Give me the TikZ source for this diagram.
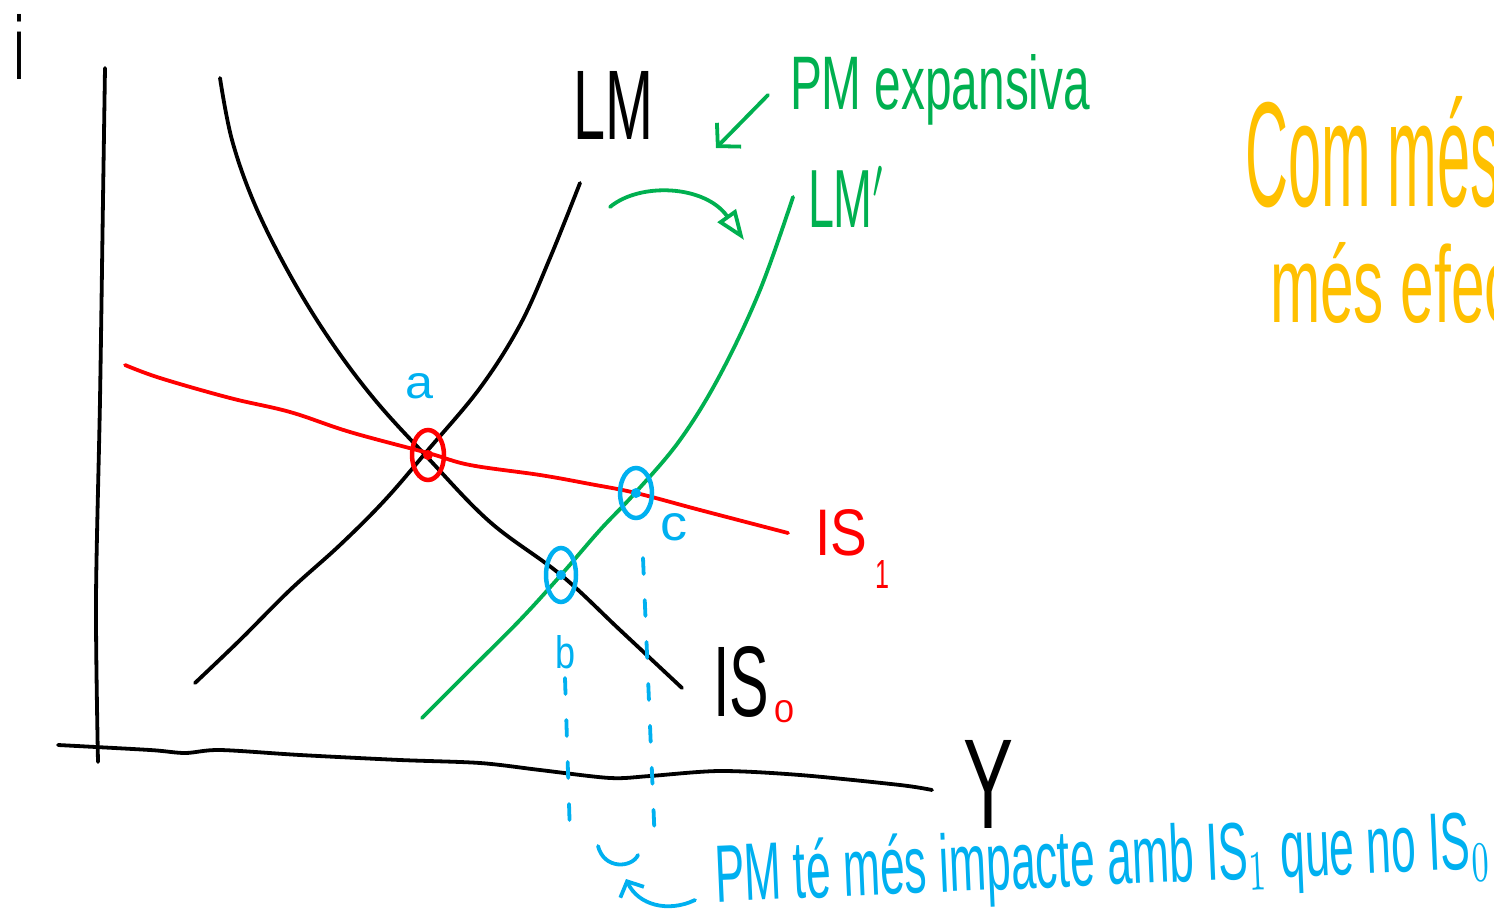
\documentclass[tikz,border=0pt]{standalone}
\usepackage{fontspec}
\setmainfont{Liberation Sans}
\usepackage{graphicx}
\usetikzlibrary{arrows.meta,shapes.geometric}
\definecolor{hblue}{HTML}{00B0F0}
\definecolor{hgreen}{HTML}{00B050}
\definecolor{hred}{HTML}{FF0000}
\definecolor{horange}{HTML}{FFC000}
\newcommand{\hw}[3]{\resizebox{#1pt}{#2pt}{#3}}
\begin{document}
\begin{tikzpicture}[x=1pt,y=-1pt,
  curve/.style={line width=3.8pt,line cap=round,line join=round},
  lbl/.style={anchor=base west,inner sep=0pt,outer sep=0pt},
  ptmark/.style={draw,ellipse,line width=4.5pt,inner sep=0pt,minimum width=32pt,minimum height=50pt},
  ptdot/.style={circle,fill,inner sep=0pt,minimum size=10pt},
  dashv/.style={hblue,line width=3.8pt,line cap=round,dash pattern=on 16pt off 26pt}]
\useasboundingbox (0,0) rectangle (1494,920);

% axes
\draw[curve] plot[smooth,tension=0.5] coordinates {(105,68) (103,200) (100,400) (96,600) (98,762)};
\draw[curve] plot[smooth,tension=0.5] coordinates {(58,745) (150,750) (185,753) (220,750) (300,755) (400,760) (480,763) (540,770) (610,778) (650,776) (720,771) (800,775) (900,785) (932,790)};
\node[lbl] (ilbl) at (15,80) {\hw{10}{65}{i}};
\node[lbl] (ylbl) at (963,828) {\hw{50}{88}{Y}};

% IS0
\draw[curve] plot[smooth,tension=0.6] coordinates {(220,78) (232,140) (255,205) (290,275) (330,340) (375,400) (428,458) (490,522) (561,575) (620,630) (682,688)};
% LM
\draw[curve] plot[smooth,tension=0.6] coordinates {(195,683) (240,640) (290,590) (340,545) (385,500) (428,450) (480,388) (520,325) (550,258) (580,183)};
% IS1
\draw[curve,hred] plot[smooth,tension=0.6] coordinates {(125,365) (160,378) (230,398) (290,412) (350,432) (428,453) (470,465) (540,475) (590,484) (636,493) (700,510) (788,533)};
% LM'
\draw[curve,hgreen] plot[smooth,tension=0.6] coordinates {(422,718) (470,670) (520,620) (561,575) (600,530) (636,492) (680,440) (720,375) (760,290) (793,197)};

% labels of curves
\node[lbl] (lmlbl) at (573,140) {\hw{80}{68}{LM}};
\node[lbl,hgreen] (lmplbl) at (808,228) {\hw{78}{62}{LM$'$}};
\node[lbl,hgreen] (pmlbl) at (790,110) {\hw{300}{55}{PM expansiva}};
\node[lbl] (is0lbl) at (713,716) {\hw{56}{70}{IS}};
\node[lbl,hred] (is0sub) at (774,722) {\hw{20}{22}{0}};
\node[lbl,hred] (is1lbl) at (815,555) {\hw{52}{46}{IS}};
\node[lbl,hred] (is1sub) at (875,588) {\hw{14}{28}{1}};

% green arrows
\coordinate (g1s) at (768,95);
\coordinate (g1e) at (716,148);
\draw[curve,hgreen,-{Straight Barb[length=16pt,width=34pt]}] (g1s) -- (g1e);
\coordinate (g2s) at (610,207);
\coordinate (g2e) at (744,240);
\draw[curve,hgreen,-{Triangle[open,length=30pt,width=22pt]}] (g2s) .. controls (640,182) and (705,185) .. (g2e);

% equilibrium points
\node[ptmark,hred] (pa) at (428,455) {};
\node[ptdot,hred] at (pa.center) {};
\node[ptmark,hblue,minimum width=30pt,minimum height=54pt] (pb) at (561,575) {};
\node[ptdot,hblue] at (pb.center) {};
\node[ptmark,hblue] (pc) at (636,493) {};
\node[ptdot,hblue] at (pc.center) {};
\node[lbl,hblue] (alb) at (405,398) {\hw{28}{25}{a}};
\node[lbl,hblue] (blb) at (555,668) {\hw{20}{33}{b}};
\node[lbl,hblue] (clb) at (660,540) {\hw{27}{27}{c}};

% dashed projections
\coordinate (bt) at (565,678);
\coordinate (bb) at (570,835);
\coordinate (ct) at (643,558);
\coordinate (cb) at (655,845);
\draw[dashv] (bt) -- (bb);
\draw[dashv] (ct) -- (cb);

% bracket and arrow
\coordinate (k1) at (598,846);
\coordinate (k2) at (638,855);
\draw[curve,hblue] (k1) .. controls (604,870) and (632,868) .. (k2);
\coordinate (ar1) at (695,900);
\coordinate (ar2) at (626,879);
\draw[curve,hblue,-{Straight Barb[length=12pt,width=26pt]}] (ar1) .. controls (668,913) and (638,905) .. (ar2);

\node[lbl,hblue,rotate=2.5] (note) at (716,902) {\hw{776}{60}{PM té més impacte amb IS$_1$ que no IS$_0$}};

% orange note (cut at the right edge)
\begin{scope}
\clip (0,0) rectangle (1494,920);
\node[lbl,horange] (or1) at (1245,207) {\hw{255}{110}{Com més}};
\node[lbl,horange] (or2) at (1270,322) {\hw{245}{80}{més efec}};
\end{scope}
\end{tikzpicture}
\end{document}
